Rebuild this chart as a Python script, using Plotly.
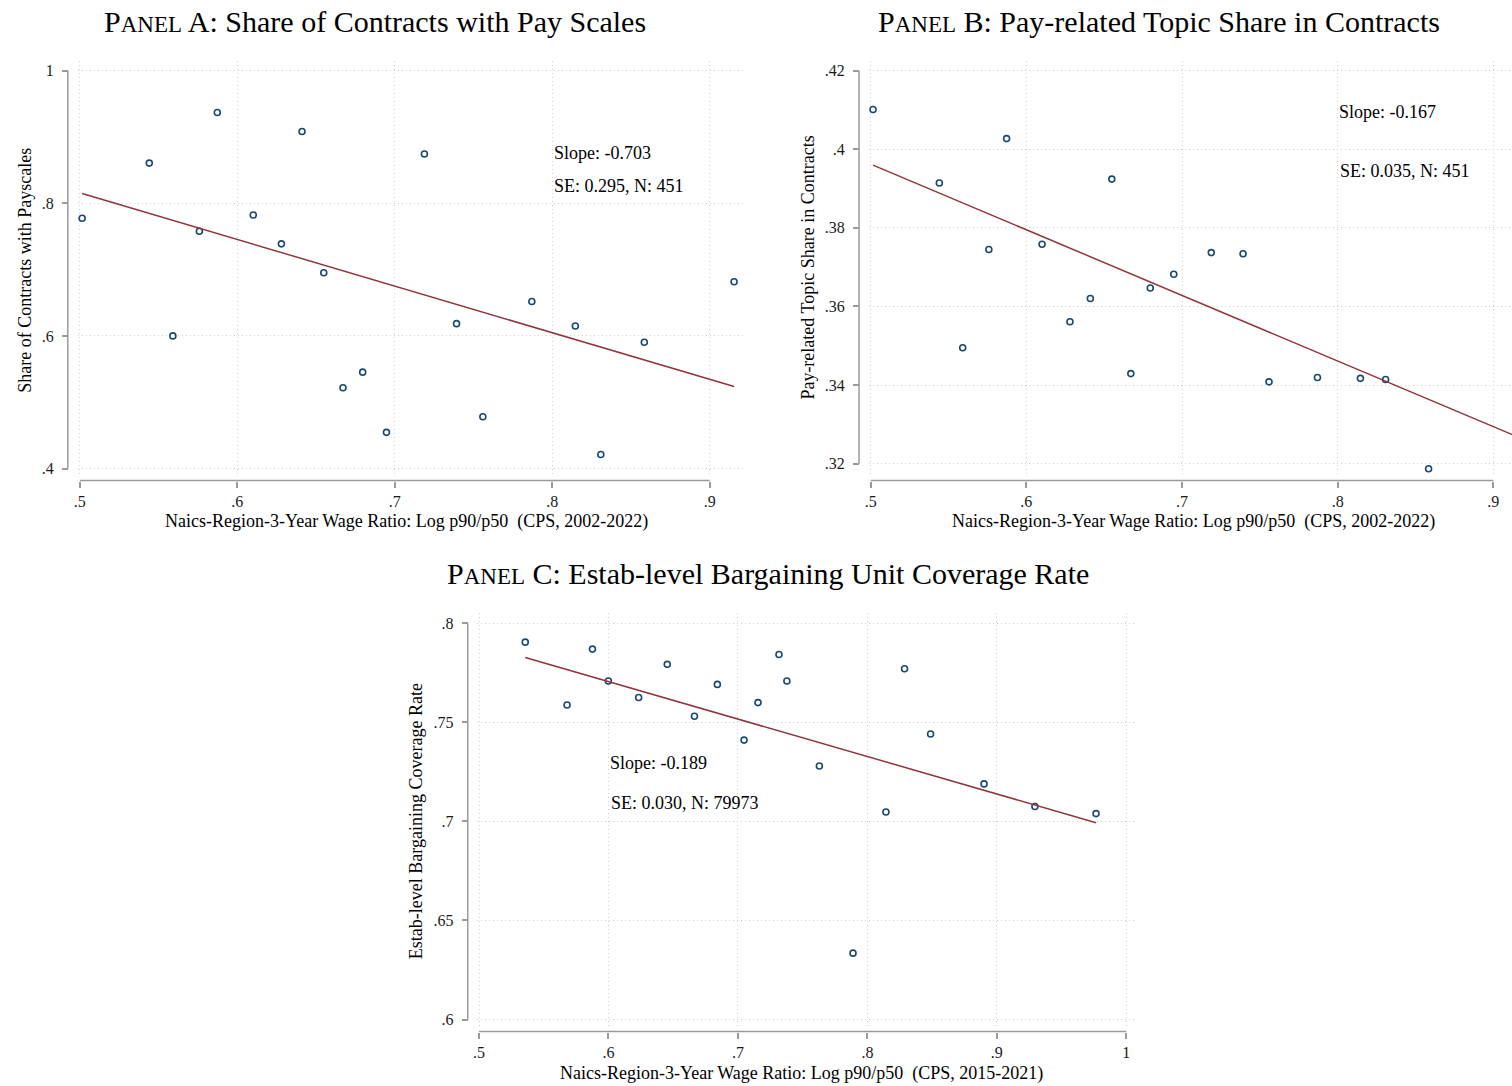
import plotly.graph_objects as go

W, H = 1512, 1086
FONT = "Liberation Serif"
NAVY = "#1a476f"
MAROON = "#90353b"
AXIS_GRAY = "#9a9a9a"
GRID_GRAY = "#cfcfcf"
TXT = "#1a1a1a"

# ---- data -----------------------------------------------------------------
# Bin means of the log p90/p50 wage ratio (CPS, 2002-2022), panels A and B
wage_ratio_0222 = [0.5015, 0.5441, 0.5591, 0.5759, 0.5873, 0.6101, 0.6280,
                   0.6411, 0.6549, 0.6671, 0.6796, 0.6947, 0.7188, 0.7392,
                   0.7559, 0.7870, 0.8146, 0.8308, 0.8584, 0.9154]
# Panel A: share of contracts with pay scales
payscale_share = [0.7774, 0.8606, 0.6000, 0.7579, 0.9368, 0.7824, 0.7388,
                  0.9083, 0.6952, 0.5218, 0.5454, 0.4546, 0.8742, 0.6185,
                  0.4782, 0.6519, 0.6150, 0.4211, 0.5905, 0.6817]
# Panel B: pay-related topic share (first 19 bins)
pay_topic_share = [0.4101, 0.3914, 0.3495, 0.3745, 0.4027, 0.3758, 0.3561,
                   0.3620, 0.3924, 0.3429, 0.3647, 0.3682, 0.3737, 0.3734,
                   0.3408, 0.3419, 0.3417, 0.3414, 0.3187]

# Panel C: wage ratio bins (CPS, 2015-2021) and bargaining coverage
wage_ratio_1521 = [0.5357, 0.5680, 0.5876, 0.5999, 0.6233, 0.6454, 0.6664,
                   0.6841, 0.7047, 0.7155, 0.7317, 0.7378, 0.7629, 0.7889,
                   0.8143, 0.8287, 0.8488, 0.8901, 0.9294, 0.9766]
coverage_rate = [0.7904, 0.7587, 0.7869, 0.7708, 0.7625, 0.7792, 0.7530,
                 0.7691, 0.7410, 0.7599, 0.7842, 0.7708, 0.7279, 0.6335,
                 0.7047, 0.7770, 0.7441, 0.7189, 0.7075, 0.7039]

# Linear fits: (intercept, slope)
fit_a = (1.1672, -0.703)
fit_b = (0.4797, -0.167)
fit_c = (0.8839, -0.189)

stats_a = ["Slope: -0.703", "SE: 0.295, N: 451"]
stats_b = ["Slope: -0.167", "SE: 0.035, N: 451"]
stats_c = ["Slope: -0.189", "SE: 0.030, N: 79973"]

xticks_0222 = [0.5, 0.6, 0.7, 0.8, 0.9]
xticklabels_0222 = [".5", ".6", ".7", ".8", ".9"]
xticks_1521 = [0.5, 0.6, 0.7, 0.8, 0.9, 1.0]
xticklabels_1521 = [".5", ".6", ".7", ".8", ".9", "1"]
yticks_a = [0.4, 0.6, 0.8, 1.0]
yticklabels_a = [".4", ".6", ".8", "1"]
yticks_b = [0.32, 0.34, 0.36, 0.38, 0.40, 0.42]
yticklabels_b = [".32", ".34", ".36", ".38", ".4", ".42"]
yticks_c = [0.60, 0.65, 0.70, 0.75, 0.80]
yticklabels_c = [".6", ".65", ".7", ".75", ".8"]

xtitle_0222 = "Naics-Region-3-Year Wage Ratio: Log p90/p50  (CPS, 2002-2022)"
xtitle_1521 = "Naics-Region-3-Year Wage Ratio: Log p90/p50  (CPS, 2015-2021)"


# ---- layout helpers (pixel geometry of each panel) -----------------------
def px_x(p):
    return p / W


def px_y(p):
    return 1 - p / H


def lin(v0, p0, v1, p1, q):
    return v0 + (q - p0) * (v1 - v0) / (p1 - p0)


def panel_axes(xcal, ycal, xbox, ybox, xline_px, yline_px, xt, xtl, yt, ytl):
    """xcal/ycal: (v0, p0, v1, p1) pixel calibration; xbox/ybox: pixel box."""
    common = dict(
        showline=False, ticks="outside", ticklen=6, tickwidth=1.5,
        tickcolor=AXIS_GRAY, showgrid=True, gridcolor=GRID_GRAY, gridwidth=1,
        griddash="1px,3px", zeroline=False, anchor="free",
        tickfont=dict(family=FONT, size=16, color=TXT),
    )
    xa = dict(common, domain=[px_x(xbox[0]), px_x(xbox[1])],
              range=[lin(*xcal, xbox[0]), lin(*xcal, xbox[1])],
              tickvals=xt, ticktext=xtl, position=px_y(xline_px))
    ya = dict(common, domain=[px_y(ybox[1]), px_y(ybox[0])],
              range=[lin(*ycal, ybox[1]), lin(*ycal, ybox[0])],
              tickvals=yt, ticktext=ytl, position=px_x(yline_px),
              ticklabelstandoff=5)
    return xa, ya


xa1, ya1 = panel_axes((0.5, 76, 0.9, 707.7), (1.0, 70.7, 0.4, 469),
                      (74, 742), (61, 477), 481, 64,
                      xticks_0222, xticklabels_0222, yticks_a, yticklabels_a)
xa2, ya2 = panel_axes((0.5, 869, 0.9, 1493.3), (0.42, 70.7, 0.36, 306.7),
                      (867, 1512), (61, 477), 481, 857.3,
                      xticks_0222, xticklabels_0222, yticks_b, yticklabels_b)
xa3, ya3 = panel_axes((0.5, 476.3, 1.0, 1125.3), (0.8, 623.7, 0.6, 1020.5),
                      (474.3, 1133), (613.5, 1028.5), 1032.5, 465,
                      xticks_1521, xticklabels_1521, yticks_c, yticklabels_c)

fig = go.Figure()


def add_panel(xs, ys, fit, line_x, xref, yref):
    fig.add_trace(go.Scatter(
        x=xs, y=ys, mode="markers", xaxis=xref, yaxis=yref,
        marker=dict(symbol="circle-open", size=6, color=NAVY,
                    line=dict(color=NAVY, width=1.6)),
        showlegend=False, hoverinfo="x+y"))
    fx = [line_x[0], line_x[-1]]
    fig.add_trace(go.Scatter(
        x=fx, y=[fit[0] + fit[1] * v for v in fx], mode="lines",
        xaxis=xref, yaxis=yref, line=dict(color=MAROON, width=1.5),
        showlegend=False, hoverinfo="skip"))


add_panel(wage_ratio_0222, payscale_share, fit_a, wage_ratio_0222, "x", "y")
add_panel(wage_ratio_0222[:len(pay_topic_share)], pay_topic_share, fit_b,
          wage_ratio_0222, "x2", "y2")
add_panel(wage_ratio_1521, coverage_rate, fit_c, wage_ratio_1521, "x3", "y3")

# Axis lines span from the first to the last tick
shapes = []
for xr, yr, xt, yt, xline, yline in [
        ("x", "y", xticks_0222, yticks_a, 481, 64),
        ("x2", "y2", xticks_0222, yticks_b, 481, 857.3),
        ("x3", "y3", xticks_1521, yticks_c, 1032.5, 465)]:
    shapes.append(dict(type="line", xref="paper", yref=yr,
                       x0=px_x(yline), x1=px_x(yline), y0=min(yt), y1=max(yt),
                       line=dict(color=AXIS_GRAY, width=1.5)))
    shapes.append(dict(type="line", xref=xr, yref="paper",
                       x0=min(xt), x1=max(xt), y0=px_y(xline), y1=px_y(xline),
                       line=dict(color=AXIS_GRAY, width=1.5)))

ann = []


def text(s, x, y, size, anchor="center", angle=0):
    ann.append(dict(text=s, x=px_x(x), y=px_y(y), xref="paper", yref="paper",
                    showarrow=False, xanchor=anchor, yanchor="middle",
                    textangle=angle,
                    font=dict(family=FONT, size=size, color="black")))


def panel_title(letter, rest):
    return ("P<span style='font-size:23px'>ANEL</span> " + letter + ": " + rest)


text(panel_title("A", "Share of Contracts with Pay Scales"), 372, 22, 30)
text(panel_title("B", "Pay-related Topic Share in Contracts"), 1158, 22, 30)
text(panel_title("C", "Estab-level Bargaining Unit Coverage Rate"), 766, 574, 30)

text(xtitle_0222, 404, 522, 18)
text(xtitle_0222, 1193, 522, 18)
text(xtitle_1521, 800, 1074, 18)

text("Share of Contracts with Payscales", 21, 270, 18, angle=-90)
text("Pay-related Topic Share in Contracts", 806, 268, 18, angle=-90)
text("Estab-level Bargaining Coverage Rate", 413, 822, 18, angle=-90)

text(stats_a[0], 549, 152.7, 18, anchor="left")
text(stats_a[1], 549, 185.7, 18, anchor="left")
text(stats_b[0], 1336.3, 112.3, 18, anchor="left")
text(stats_b[1], 1337.3, 171, 18, anchor="left")
text(stats_c[0], 605.3, 764, 18, anchor="left")
text(stats_c[1], 606.3, 803.3, 18, anchor="left")

fig.update_layout(
    width=W, height=H, margin=dict(l=0, r=0, t=0, b=0),
    paper_bgcolor="white", plot_bgcolor="white",
    xaxis=xa1, yaxis=ya1, xaxis2=xa2, yaxis2=ya2, xaxis3=xa3, yaxis3=ya3,
    shapes=shapes, annotations=ann, showlegend=False,
    font=dict(family=FONT, color=TXT),
)

fig.write_html("out.html")
